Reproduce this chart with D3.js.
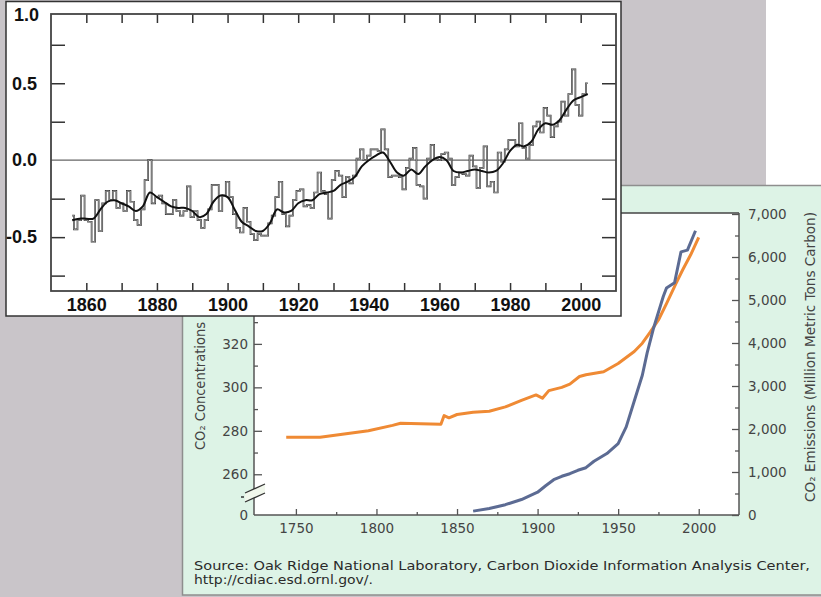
<!DOCTYPE html>
<html>
<head>
<meta charset="utf-8">
<script src="https://cdn.jsdelivr.net/npm/d3@7"></script>
<style>
  body { margin: 0; background: #c9c5c9; }
  svg { display: block; }
</style>
</head>
<body>
<div id="chart"></div>
<script>
// global temperature anomaly (deg C), one value per year from 1856
const tempFirstYear = 1856
const tempAnomaly = [
  -0.36, -0.45, -0.39, -0.23,
  -0.39, -0.40, -0.53, -0.26, -0.46, -0.28, -0.20, -0.26, -0.20, -0.31,
  -0.28, -0.33, -0.20, -0.27, -0.39, -0.42, -0.32, -0.13, 0.00, -0.28,
  -0.24, -0.23, -0.28, -0.35, -0.35, -0.26, -0.33, -0.36, -0.33, -0.17,
  -0.37, -0.33, -0.39, -0.44, -0.39, -0.32, -0.16, -0.16, -0.33, -0.23,
  -0.14, -0.24, -0.35, -0.44, -0.47, -0.31, -0.40, -0.48, -0.52, -0.48,
  -0.49, -0.49, -0.41, -0.36, -0.24, -0.14, -0.35, -0.43, -0.36, -0.26,
  -0.20, -0.19, -0.30, -0.29, -0.31, -0.21, -0.08, -0.20, -0.22, -0.38,
  -0.13, -0.07, -0.10, -0.24, -0.11, -0.15, -0.10, 0.01, 0.07, 0.00,
  0.03, 0.07, 0.07, 0.06, 0.20, 0.07, -0.11, -0.10, -0.10, -0.11,
  -0.19, -0.05, 0.01, 0.08, -0.16, -0.17, -0.25, 0.01, 0.10, 0.01,
  0.00, 0.04, 0.05, 0.01, -0.16, -0.11, -0.08, -0.09, -0.10, 0.03,
  -0.04, -0.18, -0.05, 0.09, -0.17, -0.14, -0.21, 0.05, -0.01, 0.07,
  0.13, 0.13, 0.09, 0.24, 0.08, 0.01, 0.10, 0.22, 0.25, 0.18,
  0.34, 0.29, 0.15, 0.22, 0.25, 0.38, 0.29, 0.43, 0.59, 0.36,
  0.29, 0.43, 0.50
]
// smoothed curve read every second year
const smoothYears = d3.range(1856, 2003, 2)
const smoothAnomaly = [
  -0.39, -0.38, -0.38, -0.38, -0.32, -0.27, -0.26, -0.28, -0.30, -0.33,
  -0.30, -0.21, -0.24, -0.27, -0.30, -0.31, -0.31, -0.33, -0.37, -0.35,
  -0.27, -0.23, -0.24, -0.32, -0.40, -0.43, -0.46, -0.46, -0.41, -0.32,
  -0.34, -0.33, -0.28, -0.26, -0.26, -0.22, -0.21, -0.20, -0.16, -0.14,
  -0.11, -0.04, 0.00, 0.03, 0.05, -0.01, -0.08, -0.10, -0.06, -0.09,
  -0.04, 0.00, 0.02, 0.00, -0.07, -0.08, -0.07, -0.06, -0.07, -0.08,
  -0.07, -0.02, 0.06, 0.10, 0.09, 0.12, 0.20, 0.24, 0.23, 0.26,
  0.33, 0.39, 0.41, 0.43
]
const topYearTicks = d3.range(1860, 2001, 10)
const topYearLabels = d3.range(1860, 2001, 20)
const topValueTicks = [-0.75, -0.5, -0.25, 0.25, 0.5, 0.75]
const topValueLabels = [-0.5, 0, 0.5]

// CO2 concentration (ppm) and emissions (million metric tons carbon)
const concYears = [1744, 1765, 1780, 1795, 1810, 1815, 1840, 1842, 1845, 1850,
  1860, 1870, 1880, 1890, 1899, 1903, 1907, 1915, 1920, 1926, 1930, 1941,
  1950, 1960, 1965, 1970, 1975, 1980, 1986, 1990, 1995, 2000]
const concPpm = [277, 277, 278.5, 280, 282.5, 283.5, 283, 287, 286, 287.5,
  288.5, 289, 291, 294, 296.5, 295, 298.5, 300, 301.5, 305, 305.8, 307.2,
  311, 316.5, 320.3, 325.5, 331, 338.5, 348, 354, 361, 369]
const emisYears = [1860, 1870, 1880, 1890, 1900, 1905, 1910, 1915, 1920, 1925,
  1930, 1935, 1943, 1950, 1955, 1960, 1965, 1968, 1972, 1978, 1980, 1985,
  1989, 1993, 1998]
const emisMtc = [90, 150, 240, 360, 530, 680, 820, 900, 960, 1040,
  1100, 1250, 1430, 1660, 2050, 2650, 3250, 3770, 4350, 5080, 5280, 5400,
  6120, 6160, 6610]
const botYearTicks = d3.range(1750, 2001, 50)
const botYearMinor = [1775, 1825, 1875, 1925, 1975]
const concTicks = [260, 280, 300, 320]
const concMinor = [270, 290, 310, 330]
const emisTicks = d3.range(0, 7001, 1000)
const emisMinor = d3.range(500, 7000, 1000)

const svg = d3.select('#chart').append('svg')
  .attr('width', 821)
  .attr('height', 597)

svg.append('rect').attr('width', 821).attr('height', 597).attr('fill', '#c9c5c9')
svg.append('rect').attr('x', 766).attr('y', 0).attr('width', 55).attr('height', 185)
  .attr('fill', '#fff')

// ---------- lower panel: CO2 ----------
const botPanel = svg.append('g')
botPanel.append('rect')
  .attr('x', 182.5).attr('y', 185.5).attr('width', 660).attr('height', 409.5)
  .attr('fill', '#ddf3e6').attr('stroke', '#8e8e8e').attr('stroke-width', 1.5)

const xB = d3.scaleLinear().domain([1724, 2025]).range([254, 739])
const concY = d3.scaleLinear().domain([250, 380]).range([496, 213.5])
const emisY = d3.scaleLinear().domain([0, 7000]).range([515, 214])

botPanel.append('rect')
  .attr('x', xB.range()[0]).attr('y', emisY(7000) - 1)
  .attr('width', xB.range()[1] - xB.range()[0])
  .attr('height', emisY(0) - emisY(7000) + 1)
  .attr('fill', '#fff')

function styleAxis (g, color) {
  g.select('.domain').remove()
  g.selectAll('line').attr('stroke', color).attr('stroke-width', 1.3)
  g.selectAll('text')
    .attr('fill', '#444')
    .style('font-family', 'DejaVu Sans, sans-serif')
    .style('font-size', '13.5px')
}

botPanel.append('g').attr('transform', 'translate(0,515)')
  .call(d3.axisBottom(xB).tickValues(botYearTicks).tickSize(-6)
    .tickFormat(d3.format('d')))
  .call(g => styleAxis(g, '#555'))
  .call(g => g.selectAll('text').attr('y', 8))
botPanel.append('g').attr('transform', 'translate(0,515)')
  .call(d3.axisBottom(xB).tickValues(botYearMinor).tickSize(-3).tickFormat(''))
  .call(g => styleAxis(g, '#555'))

botPanel.append('g').attr('transform', 'translate(254,0)')
  .call(d3.axisLeft(concY).tickValues(concTicks).tickSize(-8))
  .call(g => styleAxis(g, '#555'))
  .call(g => g.selectAll('text').attr('x', -6))
botPanel.append('g').attr('transform', 'translate(254,0)')
  .call(d3.axisLeft(concY).tickValues(concMinor).tickSize(-4).tickFormat(''))
  .call(g => styleAxis(g, '#555'))

botPanel.append('g').attr('transform', 'translate(739,0)')
  .call(d3.axisRight(emisY).tickValues(emisTicks).tickSize(-7)
    .tickFormat(d3.format(',')))
  .call(g => styleAxis(g, '#555'))
  .call(g => g.selectAll('text').attr('x', 9))
botPanel.append('g').attr('transform', 'translate(739,0)')
  .call(d3.axisRight(emisY).tickValues(emisMinor).tickSize(-4).tickFormat(''))
  .call(g => styleAxis(g, '#555'))

botPanel.append('text')
  .attr('x', 248).attr('y', emisY(0)).attr('dy', '0.35em')
  .attr('text-anchor', 'end')
  .attr('fill', '#444')
  .style('font-family', 'DejaVu Sans, sans-serif').style('font-size', '13.5px')
  .text('0')

// frame of the plot
const frame = botPanel.append('g').attr('stroke', '#555').attr('stroke-width', 1.5)
frame.append('line').attr('x1', 254).attr('x2', 739).attr('y1', 213).attr('y2', 213)
  .attr('stroke', '#444')
frame.append('line').attr('x1', 254).attr('x2', 739).attr('y1', 515).attr('y2', 515)
frame.append('line').attr('x1', 739).attr('x2', 739).attr('y1', 213).attr('y2', 515)
frame.append('line').attr('x1', 254).attr('x2', 254).attr('y1', 213).attr('y2', 489)
frame.append('line').attr('x1', 254).attr('x2', 254).attr('y1', 498).attr('y2', 515)

// axis break
botPanel.append('polygon')
  .attr('points', '245,493 265,484 265,493 245,502')
  .attr('fill', '#f1f7ec')
botPanel.append('path')
  .attr('d', 'M245,493L265,484M245,502L265,493M241,497L244,497')
  .attr('stroke', '#333').attr('stroke-width', 1.3).attr('fill', 'none')

const concData = concYears.map((y, i) => ({year: y, value: concPpm[i]}))
const emisData = emisYears.map((y, i) => ({year: y, value: emisMtc[i]}))

botPanel.append('path')
  .datum(concData)
  .attr('fill', 'none')
  .attr('stroke', '#ef8a34')
  .attr('stroke-width', 3)
  .attr('stroke-linejoin', 'round')
  .attr('d', d3.line().x(d => xB(d.year)).y(d => concY(d.value)))

botPanel.append('path')
  .datum(emisData)
  .attr('fill', 'none')
  .attr('stroke', '#5c6b93')
  .attr('stroke-width', 3)
  .attr('stroke-linejoin', 'round')
  .attr('d', d3.line().x(d => xB(d.year)).y(d => emisY(d.value)))

botPanel.append('text')
  .attr('transform', 'translate(205,386) rotate(-90)')
  .attr('text-anchor', 'middle')
  .attr('fill', '#444')
  .attr('textLength', 128).attr('lengthAdjust', 'spacingAndGlyphs')
  .style('font-family', 'DejaVu Sans, sans-serif').style('font-size', '13.5px')
  .text('CO₂ Concentrations')

botPanel.append('text')
  .attr('transform', 'translate(815,357) rotate(-90)')
  .attr('text-anchor', 'middle')
  .attr('fill', '#444')
  .attr('textLength', 290).attr('lengthAdjust', 'spacingAndGlyphs')
  .style('font-family', 'DejaVu Sans, sans-serif').style('font-size', '13.5px')
  .text('CO₂ Emissions (Million Metric Tons Carbon)')

botPanel.append('text')
  .attr('x', 194).attr('y', 570)
  .attr('fill', '#2a2a2a')
  .attr('textLength', 616).attr('lengthAdjust', 'spacingAndGlyphs')
  .style('font-family', 'DejaVu Sans, sans-serif').style('font-size', '13px')
  .text('Source: Oak Ridge National Laboratory, Carbon Dioxide Information Analysis Center,')
botPanel.append('text')
  .attr('x', 194).attr('y', 584)
  .attr('fill', '#2a2a2a')
  .attr('textLength', 179).attr('lengthAdjust', 'spacingAndGlyphs')
  .style('font-family', 'DejaVu Sans, sans-serif').style('font-size', '13px')
  .text('http://cdiac.esd.ornl.gov/.')

// ---------- upper panel: temperature ----------
const topPanel = svg.append('g')
topPanel.append('rect')
  .attr('x', 6).attr('y', 1.5).attr('width', 615).attr('height', 314.5)
  .attr('fill', '#fff').attr('stroke', '#333').attr('stroke-width', 1.5)

const xT = d3.scaleLinear().domain([1850, 2010]).range([51, 616])
const yT = d3.scaleLinear().domain([-0.85, 0.95]).range([291, 14])

topPanel.append('line')
  .attr('x1', xT(1850)).attr('x2', xT(2010))
  .attr('y1', yT(0)).attr('y2', yT(0))
  .attr('stroke', '#666').attr('stroke-width', 1.2)

function styleTopAxis (g) {
  g.select('.domain').remove()
  g.selectAll('line').attr('stroke', '#333').attr('stroke-width', 1.5)
  g.selectAll('text')
    .attr('fill', '#111')
    .style('font-family', 'Liberation Sans, Arial, sans-serif')
    .style('font-size', '18px')
    .style('font-weight', 'bold')
}

topPanel.append('g').attr('transform', 'translate(0,291)')
  .call(d3.axisBottom(xT).tickValues(topYearTicks).tickSize(-8).tickFormat(''))
  .call(styleTopAxis)
topPanel.append('g').attr('transform', 'translate(0,14)')
  .call(d3.axisTop(xT).tickValues(topYearTicks).tickSize(-9).tickFormat(''))
  .call(styleTopAxis)
topPanel.append('g').attr('transform', 'translate(51,0)')
  .call(d3.axisLeft(yT).tickValues(topValueTicks).tickSize(-14).tickFormat(''))
  .call(styleTopAxis)
topPanel.append('g').attr('transform', 'translate(616,0)')
  .call(d3.axisRight(yT).tickValues(topValueTicks).tickSize(-14).tickFormat(''))
  .call(styleTopAxis)

topPanel.append('g').attr('transform', 'translate(0,291)')
  .call(d3.axisBottom(xT).tickValues(topYearLabels).tickSize(0).tickPadding(7)
    .tickFormat(d3.format('d')))
  .call(styleTopAxis)
topPanel.append('g').attr('transform', 'translate(51,0)')
  .call(d3.axisLeft(yT).tickValues(topValueLabels).tickSize(0).tickPadding(14)
    .tickFormat(d => d.toFixed(1)))
  .call(styleTopAxis)
// the top label sits on the upper edge of the frame
topPanel.append('text')
  .attr('x', 39).attr('y', yT(0.95) + 1).attr('dy', '0.35em')
  .attr('text-anchor', 'end')
  .attr('fill', '#111')
  .style('font-family', 'Liberation Sans, Arial, sans-serif')
  .style('font-size', '18px').style('font-weight', 'bold')
  .text('1.0')

topPanel.append('rect')
  .attr('x', 51).attr('y', 14).attr('width', 565).attr('height', 277)
  .attr('fill', 'none').attr('stroke', '#444').attr('stroke-width', 1.8)

const tempData = tempAnomaly.map((v, i) => ({year: tempFirstYear + i, value: v}))
const smoothData = smoothYears.map((y, i) => ({year: y, value: smoothAnomaly[i]}))

const stepLine = d3.line()
  .x(d => xT(d.year))
  .y(d => yT(d.value))
  .curve(d3.curveStep)

topPanel.append('path')
  .datum(tempData)
  .attr('fill', 'none')
  .attr('stroke', '#2e2e2e')
  .attr('stroke-width', 1.7)
  .attr('d', stepLine)
topPanel.append('path')
  .datum(tempData)
  .attr('fill', 'none')
  .attr('stroke', '#fff')
  .attr('stroke-width', 0.45)
  .attr('d', stepLine)

topPanel.append('path')
  .datum(smoothData)
  .attr('fill', 'none')
  .attr('stroke', '#111')
  .attr('stroke-width', 2)
  .attr('d', d3.line()
    .x(d => xT(d.year))
    .y(d => yT(d.value))
    .curve(d3.curveCatmullRom.alpha(0.5)))
</script>
</body>
</html>
